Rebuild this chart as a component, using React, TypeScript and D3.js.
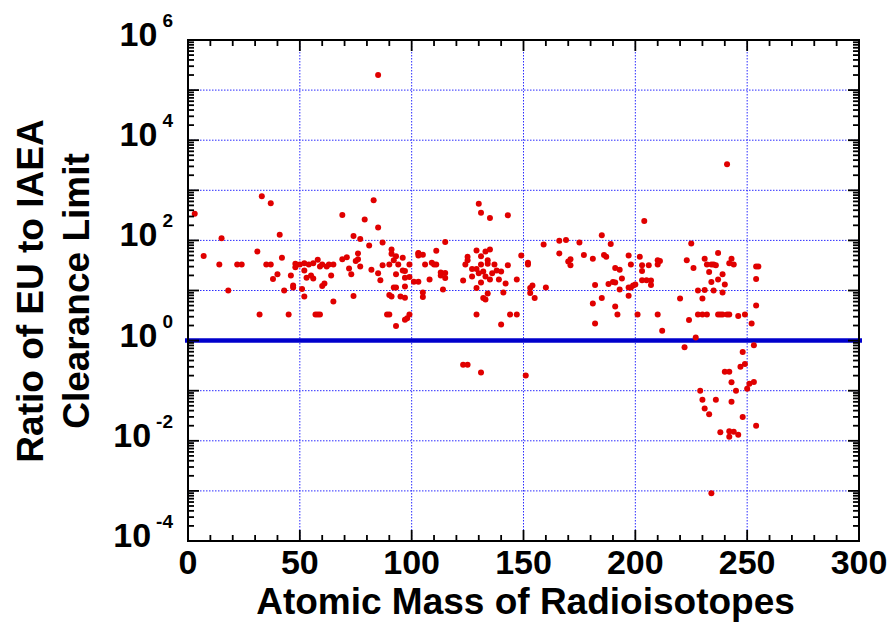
import React from "react";
import * as d3 from "d3";

// [atomic mass, ratio of EU to IAEA clearance limit]
const lightIsotopes: [number, number][] = [
  [85, 2e5], [33, 760], [37, 550], [3, 340], [69, 320], [79, 260], [83, 630], [85, 180],
  [41, 130], [15, 110], [74, 123], [77, 107], [81, 79], [87, 91], [31, 60], [7, 49],
  [14, 33], [22, 33], [24, 33], [35, 33], [37, 33], [42, 45], [38, 17], [40, 21],
  [46, 20], [43, 10], [18, 10], [32, 3.3], [45, 3.3], [48, 34], [48, 29], [47, 12.6],
  [47, 11.5], [50, 33], [52, 35], [51, 10.7], [52, 25], [52, 7.6], [53, 18], [54, 33],
  [56, 35], [55, 20], [56, 17.4], [58, 41], [59, 30], [60, 33], [62, 30], [63, 33],
  [65, 33], [60, 12.3], [61, 13.8], [64, 20], [65, 6], [57, 3.3], [58, 3.3], [59, 3.3],
  [69, 42], [71, 46], [72, 27.5], [73, 21], [74, 7.8], [75, 39], [76, 42], [76, 55],
  [77, 30], [82, 26], [85, 22], [86, 16], [87, 32], [90, 33], [91, 66], [91, 54],
  [92, 40], [93, 48], [94, 33], [96, 45], [96, 25], [97, 24.5], [93, 21], [97, 18],
  [99, 18.6], [99, 33], [101, 15], [103, 15], [103, 56], [103, 50], [92, 11.5], [93, 11.5],
  [97, 12], [90, 8.1], [91, 7.6], [95, 7.6], [97, 7.2], [89, 3.3], [90, 3.3], [93, 1.95],
  [97, 2.6], [98, 2.8], [99, 3.3],
];

const mediumIsotopes: [number, number][] = [
  [130, 540], [131, 355], [135, 280], [143, 316], [115, 93], [103, 55], [105, 52], [106, 33],
  [109, 36], [110, 33], [111, 33], [111, 62], [113, 23], [113, 20], [115, 22.4], [115, 17.8],
  [108, 16.5], [105, 9.1], [105, 7.4], [114, 10.5], [123, 15.8], [124, 33], [125, 40], [125, 47],
  [127, 27], [127, 19], [129, 63], [129, 27], [129, 11.2], [131, 48], [131, 33], [131, 14.5],
  [130, 22], [132, 24], [132, 7.1], [133, 6.6], [133, 60], [135, 66], [133, 19], [134, 8.7],
  [134, 40], [134, 34], [135, 16.5], [136, 22], [138, 25], [137, 33], [139, 16.5], [140, 24],
  [141, 9.1], [142, 13.8], [143, 32], [147, 16.5], [149, 50], [129, 3.3], [140, 2.1], [144, 3.3],
  [147, 3.3], [123, 0.33], [125, 0.33], [131, 0.23], [151, 0.2], [152, 36], [152, 33], [154, 12.6],
  [153, 11.2], [153, 8.9], [155, 7.1], [160, 11.5], [159, 83], [166, 98], [169, 102], [166, 55],
  [170, 38], [171, 42], [171, 32], [175, 91], [177, 51], [181, 43], [185, 126], [189, 85],
  [186, 51], [187, 47], [191, 28], [193, 26], [194, 17.4], [190, 14.8], [191, 14.5], [188, 13.5],
  [182, 12.9], [193, 10.5], [197, 50], [198, 33], [197, 11.5], [198, 11.5], [199, 12.6], [200, 13.2],
  [197, 7.9], [201, 3.3], [181, 5.5], [185, 7.1], [182, 2.2], [191, 4.8], [192, 3.3],
];

const heavyIsotopes: [number, number][] = [
  [241, 3300], [204, 245], [225, 87], [202, 47], [203, 32], [203, 24.5], [206, 32], [210, 40],
  [211, 39], [210, 33], [203, 16], [205, 16], [207, 15.8], [207, 12.9], [210, 3.3], [212, 1.58],
  [223, 40], [226, 28], [220, 6.9], [224, 2.57], [227, 1.15], [222, 0.74], [228, 10], [230, 6.9],
  [228, 3.3], [230, 3.3], [232, 3.3], [231, 43], [232, 33], [234, 33], [235, 33], [236, 32],
  [237, 56], [233, 23.5], [234, 14.8], [237, 16.5], [239, 21], [240, 13.2], [231, 10.2], [235, 10],
  [239, 9.1], [237, 3.3], [238, 3.3], [239, 3.3], [241, 3.3], [242, 3.3], [242, 35], [243, 43],
  [244, 33], [246, 3.1], [249, 3.3], [252, 2.2], [253, 0.81], [254, 30], [255, 30], [254, 17],
  [254, 5],
];

const actinideTail: [number, number][] = [
  [248, 0.59], [247, 0.30], [249, 0.34], [240, 0.24], [242, 0.24], [243, 0.148], [245, 0.1], [250, 0.11],
  [251, 0.138], [253, 0.15], [229, 0.1], [230, 0.066], [236, 0.066], [243, 0.06], [231, 0.044], [233, 0.034],
  [248, 0.03], [254, 0.02], [238, 0.0148], [242, 0.0155], [244, 0.0151], [246, 0.0132], [242, 0.012], [234, 0.0009],
];

const xTicks = [0, 50, 100, 150, 200, 250, 300];
const yExponents = [-4, -2, 0, 2, 4, 6];
const clearanceRatio = 1;
const xTitle = "Atomic Mass of Radioisotopes";
const yTitleLines = ["Ratio of EU to IAEA", "Clearance Limit"];

const W = 896;
const H = 623;
const FONT = "'Liberation Sans', Arial, Helvetica, sans-serif";

export default function App() {
  const left = 188, right = 859, top = 40, bottom = 541;
  const x = d3.scaleLinear().domain([0, 300]).range([left, right]);
  const y = d3.scaleLog().domain([1e-4, 1e6]).range([bottom, top]);

  const allPoints = [...lightIsotopes, ...mediumIsotopes, ...heavyIsotopes, ...actinideTail];

  const xMinor = d3.range(0, 301, 10);
  const decades = d3.range(-4, 7);
  const yMinor: number[] = [];
  decades.slice(0, -1).forEach((e) => {
    for (let k = 2; k <= 9; k++) yMinor.push(k * Math.pow(10, e));
  });

  const gridColor = "#2b2bff";
  const ticks: React.ReactNode[] = [];
  xMinor.forEach((v) => {
    const len = v % 50 === 0 ? 11 : 6;
    const px = x(v);
    ticks.push(<line key={"xb" + v} x1={px} x2={px} y1={bottom} y2={bottom - len} />);
    ticks.push(<line key={"xt" + v} x1={px} x2={px} y1={top} y2={top + len} />);
  });
  decades.forEach((e) => {
    const py = y(Math.pow(10, e));
    ticks.push(<line key={"yl" + e} x1={left} x2={left + 11} y1={py} y2={py} />);
    ticks.push(<line key={"yr" + e} x1={right} x2={right - 11} y1={py} y2={py} />);
  });
  yMinor.forEach((v, i) => {
    const py = y(v);
    ticks.push(<line key={"ml" + i} x1={left} x2={left + 6} y1={py} y2={py} />);
    ticks.push(<line key={"mr" + i} x1={right} x2={right - 6} y1={py} y2={py} />);
  });

  return (
    <svg width={W} height={H} style={{ display: "block", position: "absolute", left: 0, top: 0 }}>
      <rect width={W} height={H} fill="#fff" />
      {/* grid */}
      <g stroke={gridColor} strokeWidth={1} strokeDasharray="1.5,1.5">
        {decades.slice(1, -1).map((e) => (
          <line key={"gh" + e} x1={left} x2={right} y1={y(Math.pow(10, e))} y2={y(Math.pow(10, e))} />
        ))}
        {xTicks.slice(1, -1).map((v) => (
          <line key={"gv" + v} x1={x(v)} x2={x(v)} y1={top} y2={bottom} />
        ))}
      </g>
      {/* clearance line */}
      <line x1={left - 3} x2={right + 3} y1={y(clearanceRatio)} y2={y(clearanceRatio)} stroke="#0000cc" strokeWidth={4.5} />
      {/* points */}
      <g fill="#e00000">
        {allPoints.map((p, i) => (
          <circle key={i} cx={x(p[0])} cy={y(p[1])} r={3} />
        ))}
      </g>
      {/* ticks and frame */}
      <g stroke="#000" strokeWidth={1.8}>{ticks}</g>
      <rect x={left} y={top} width={right - left} height={bottom - top} fill="none" stroke="#000" strokeWidth={2} />
      {/* x tick labels */}
      <g fontFamily={FONT} fontWeight="bold" fontSize={34} textAnchor="middle" fill="#000">
        {xTicks.map((v) => (
          <text key={"xl" + v} x={x(v)} y={574}>{v}</text>
        ))}
      </g>
      {/* y tick labels */}
      <g fontFamily={FONT} fontWeight="bold" fill="#000">
        {yExponents.map((e) => (
          <text key={"yl" + e} x={173} y={y(Math.pow(10, e)) + 6} textAnchor="end" fontSize={34}>
            10
            <tspan dx={5} dy={-19} fontSize={19}>{e}</tspan>
          </text>
        ))}
      </g>
      {/* titles */}
      <text x={(left + right) / 2 + 2} y={614} textAnchor="middle" fontFamily={FONT} fontWeight="bold" fontSize={37}>
        {xTitle}
      </text>
      {yTitleLines.map((t, i) => (
        <text
          key={t}
          transform={`translate(${43 + i * 46},${291}) rotate(-90)`}
          textAnchor="middle"
          fontFamily={FONT}
          fontWeight="bold"
          fontSize={37}
        >
          {t}
        </text>
      ))}
    </svg>
  );
}
